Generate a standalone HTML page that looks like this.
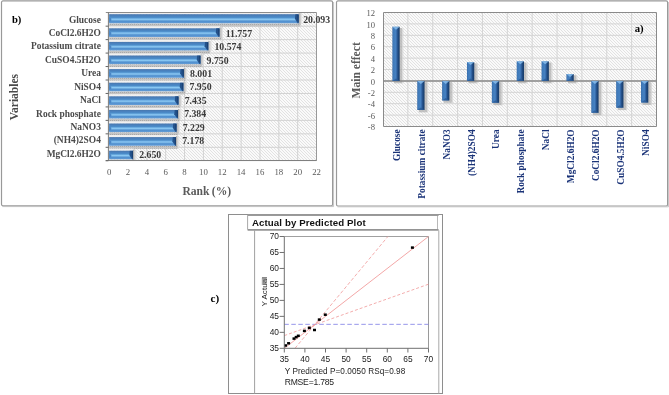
<!DOCTYPE html>
<html><head><meta charset="utf-8"><style>
html,body{margin:0;padding:0;background:#fff;width:669px;height:395px;overflow:hidden}
svg{display:block;will-change:transform;filter:blur(0.3px)}
text{font-family:"Liberation Serif", serif}
.sans{font-family:"Liberation Sans", sans-serif}
</style></head><body>
<svg width="669" height="395" viewBox="0 0 669 395">
<defs>
<pattern id="hatch" width="3" height="3" patternUnits="userSpaceOnUse">
<rect width="3" height="3" fill="#fafafa"/>
<rect x="0" y="0" width="1" height="1" fill="#e2e2e2"/>
<rect x="1" y="1" width="1" height="1" fill="#e2e2e2"/>
<rect x="2" y="2" width="1" height="1" fill="#e2e2e2"/>
</pattern>
<linearGradient id="hbar" x1="0" y1="0" x2="0" y2="1">
<stop offset="0" stop-color="#4676b0"/>
<stop offset="0.1" stop-color="#4a7cb4"/>
<stop offset="0.2" stop-color="#4a82c0"/>
<stop offset="0.35" stop-color="#4a8cc8"/>
<stop offset="0.5" stop-color="#7ab8ea"/>
<stop offset="0.56" stop-color="#8ccaf4"/>
<stop offset="0.66" stop-color="#70acdf"/>
<stop offset="0.76" stop-color="#5090d0"/>
<stop offset="0.88" stop-color="#5a96d2"/>
<stop offset="1" stop-color="#6a9fd6"/>
</linearGradient>
<linearGradient id="vbar" x1="0" y1="0" x2="1" y2="0">
<stop offset="0" stop-color="#3468a5"/>
<stop offset="0.12" stop-color="#3f7aba"/>
<stop offset="0.45" stop-color="#4681c1"/>
<stop offset="0.6" stop-color="#3568a8"/>
<stop offset="0.75" stop-color="#214d85"/>
<stop offset="1" stop-color="#183a66"/>
</linearGradient>
<pattern id="shad" width="2" height="2" patternUnits="userSpaceOnUse">
<rect width="2" height="2" fill="#c4c4c4"/>
<rect width="1" height="1" fill="#a9a9a9"/>
</pattern>
</defs>
<rect width="669" height="395" fill="#fff"/>

<rect x="1.5" y="0.9" width="331.1" height="204.9" rx="1.5" fill="#fff" stroke="#999" stroke-width="1.2"/>
<line x1="333.6" y1="2" x2="333.6" y2="206.6" stroke="#c4c4c4" stroke-width="1"/>
<line x1="2.5" y1="206.6" x2="333.6" y2="206.6" stroke="#c4c4c4" stroke-width="1"/>
<rect x="108.4" y="12.7" width="208.10" height="148.06" fill="url(#hatch)"/>
<line x1="127.98" y1="12.7" x2="127.98" y2="160.76" stroke="#d2d2d2" stroke-width="1"/>
<line x1="146.83" y1="12.7" x2="146.83" y2="160.76" stroke="#d2d2d2" stroke-width="1"/>
<line x1="165.69" y1="12.7" x2="165.69" y2="160.76" stroke="#d2d2d2" stroke-width="1"/>
<line x1="184.55" y1="12.7" x2="184.55" y2="160.76" stroke="#d2d2d2" stroke-width="1"/>
<line x1="203.41" y1="12.7" x2="203.41" y2="160.76" stroke="#d2d2d2" stroke-width="1"/>
<line x1="222.26" y1="12.7" x2="222.26" y2="160.76" stroke="#d2d2d2" stroke-width="1"/>
<line x1="241.12" y1="12.7" x2="241.12" y2="160.76" stroke="#d2d2d2" stroke-width="1"/>
<line x1="259.98" y1="12.7" x2="259.98" y2="160.76" stroke="#d2d2d2" stroke-width="1"/>
<line x1="278.83" y1="12.7" x2="278.83" y2="160.76" stroke="#d2d2d2" stroke-width="1"/>
<line x1="297.69" y1="12.7" x2="297.69" y2="160.76" stroke="#d2d2d2" stroke-width="1"/>
<line x1="108.4" y1="26.16" x2="316.5" y2="26.16" stroke="#d2d2d2" stroke-width="1"/>
<line x1="108.4" y1="39.62" x2="316.5" y2="39.62" stroke="#d2d2d2" stroke-width="1"/>
<line x1="108.4" y1="53.08" x2="316.5" y2="53.08" stroke="#d2d2d2" stroke-width="1"/>
<line x1="108.4" y1="66.54" x2="316.5" y2="66.54" stroke="#d2d2d2" stroke-width="1"/>
<line x1="108.4" y1="80.00" x2="316.5" y2="80.00" stroke="#d2d2d2" stroke-width="1"/>
<line x1="108.4" y1="93.46" x2="316.5" y2="93.46" stroke="#d2d2d2" stroke-width="1"/>
<line x1="108.4" y1="106.92" x2="316.5" y2="106.92" stroke="#d2d2d2" stroke-width="1"/>
<line x1="108.4" y1="120.38" x2="316.5" y2="120.38" stroke="#d2d2d2" stroke-width="1"/>
<line x1="108.4" y1="133.84" x2="316.5" y2="133.84" stroke="#d2d2d2" stroke-width="1"/>
<line x1="108.4" y1="147.30" x2="316.5" y2="147.30" stroke="#d2d2d2" stroke-width="1"/>
<line x1="105.8" y1="12.5" x2="316.5" y2="12.5" stroke="#8c8c8c" stroke-width="1"/>
<line x1="316.5" y1="12.5" x2="316.5" y2="160.76" stroke="#999" stroke-width="1"/>
<rect x="109.10" y="13.0" width="190.00" height="1.2" fill="#eeeeee"/>
<rect x="298.60" y="13.20" width="1.3" height="11.20" fill="#b0b0b0"/>
<rect x="299.90" y="13.20" width="1.2" height="11.20" fill="#cdcdcd"/>
<rect x="301.10" y="13.70" width="1.0" height="10.20" fill="#e4e4e4"/>
<rect x="109.10" y="14.20" width="189.50" height="9.20" fill="url(#hbar)"/>
<path d="M109.10,16.96 L111.30,18.62 L111.30,20.64 L109.10,22.02 Z" fill="#4a86c6"/>
<path d="M295.40,14.20 L298.60,14.20 L298.60,23.40 L297.80,23.40 L294.90,18.80 Z" fill="#24528b"/>
<path d="M297.30,14.70 L298.60,14.70 L298.60,22.90 L297.60,20.64 Z" fill="#1a3f70"/>
<rect x="109.10" y="23.60" width="191.30" height="2.8" fill="url(#shad)"/>
<rect x="109.10" y="26.30" width="110.86" height="2" fill="#f0f0f0"/>
<rect x="219.46" y="27.30" width="1.3" height="10.70" fill="#b0b0b0"/>
<rect x="220.76" y="27.30" width="1.2" height="10.70" fill="#cdcdcd"/>
<rect x="221.96" y="27.80" width="1.0" height="9.70" fill="#e4e4e4"/>
<rect x="109.10" y="28.30" width="110.36" height="8.70" fill="url(#hbar)"/>
<path d="M109.10,30.91 L111.30,32.48 L111.30,34.39 L109.10,35.70 Z" fill="#4a86c6"/>
<path d="M216.26,28.30 L219.46,28.30 L219.46,37.00 L218.66,37.00 L215.76,32.65 Z" fill="#24528b"/>
<path d="M218.16,28.80 L219.46,28.80 L219.46,36.50 L218.46,34.39 Z" fill="#1a3f70"/>
<rect x="109.10" y="37.20" width="112.16" height="2.8" fill="url(#shad)"/>
<rect x="109.10" y="39.90" width="99.63" height="2" fill="#f0f0f0"/>
<rect x="208.23" y="40.90" width="1.3" height="10.70" fill="#b0b0b0"/>
<rect x="209.53" y="40.90" width="1.2" height="10.70" fill="#cdcdcd"/>
<rect x="210.73" y="41.40" width="1.0" height="9.70" fill="#e4e4e4"/>
<rect x="109.10" y="41.90" width="99.13" height="8.70" fill="url(#hbar)"/>
<path d="M109.10,44.51 L111.30,46.08 L111.30,47.99 L109.10,49.29 Z" fill="#4a86c6"/>
<path d="M205.03,41.90 L208.23,41.90 L208.23,50.60 L207.43,50.60 L204.53,46.25 Z" fill="#24528b"/>
<path d="M206.93,42.40 L208.23,42.40 L208.23,50.10 L207.23,47.99 Z" fill="#1a3f70"/>
<rect x="109.10" y="50.80" width="100.93" height="2.8" fill="url(#shad)"/>
<rect x="109.10" y="53.50" width="91.81" height="2" fill="#f0f0f0"/>
<rect x="200.41" y="54.50" width="1.3" height="10.70" fill="#b0b0b0"/>
<rect x="201.71" y="54.50" width="1.2" height="10.70" fill="#cdcdcd"/>
<rect x="202.91" y="55.00" width="1.0" height="9.70" fill="#e4e4e4"/>
<rect x="109.10" y="55.50" width="91.31" height="8.70" fill="url(#hbar)"/>
<path d="M109.10,58.11 L111.30,59.68 L111.30,61.59 L109.10,62.89 Z" fill="#4a86c6"/>
<path d="M197.21,55.50 L200.41,55.50 L200.41,64.20 L199.61,64.20 L196.71,59.85 Z" fill="#24528b"/>
<path d="M199.11,56.00 L200.41,56.00 L200.41,63.70 L199.41,61.59 Z" fill="#1a3f70"/>
<rect x="109.10" y="64.40" width="93.11" height="2.8" fill="url(#shad)"/>
<rect x="109.10" y="67.10" width="75.20" height="2" fill="#f0f0f0"/>
<rect x="183.80" y="68.10" width="1.3" height="10.70" fill="#b0b0b0"/>
<rect x="185.10" y="68.10" width="1.2" height="10.70" fill="#cdcdcd"/>
<rect x="186.30" y="68.60" width="1.0" height="9.70" fill="#e4e4e4"/>
<rect x="109.10" y="69.10" width="74.70" height="8.70" fill="url(#hbar)"/>
<path d="M109.10,71.71 L111.30,73.28 L111.30,75.19 L109.10,76.49 Z" fill="#4a86c6"/>
<path d="M180.60,69.10 L183.80,69.10 L183.80,77.80 L183.00,77.80 L180.10,73.45 Z" fill="#24528b"/>
<path d="M182.50,69.60 L183.80,69.60 L183.80,77.30 L182.80,75.19 Z" fill="#1a3f70"/>
<rect x="109.10" y="78.00" width="76.50" height="2.8" fill="url(#shad)"/>
<rect x="109.10" y="80.70" width="74.72" height="2" fill="#f0f0f0"/>
<rect x="183.32" y="81.70" width="1.3" height="10.70" fill="#b0b0b0"/>
<rect x="184.62" y="81.70" width="1.2" height="10.70" fill="#cdcdcd"/>
<rect x="185.82" y="82.20" width="1.0" height="9.70" fill="#e4e4e4"/>
<rect x="109.10" y="82.70" width="74.22" height="8.70" fill="url(#hbar)"/>
<path d="M109.10,85.31 L111.30,86.88 L111.30,88.79 L109.10,90.09 Z" fill="#4a86c6"/>
<path d="M180.12,82.70 L183.32,82.70 L183.32,91.40 L182.52,91.40 L179.62,87.05 Z" fill="#24528b"/>
<path d="M182.02,83.20 L183.32,83.20 L183.32,90.90 L182.32,88.79 Z" fill="#1a3f70"/>
<rect x="109.10" y="91.60" width="76.02" height="2.8" fill="url(#shad)"/>
<rect x="109.10" y="94.30" width="69.83" height="2" fill="#f0f0f0"/>
<rect x="178.43" y="95.30" width="1.3" height="10.70" fill="#b0b0b0"/>
<rect x="179.73" y="95.30" width="1.2" height="10.70" fill="#cdcdcd"/>
<rect x="180.93" y="95.80" width="1.0" height="9.70" fill="#e4e4e4"/>
<rect x="109.10" y="96.30" width="69.33" height="8.70" fill="url(#hbar)"/>
<path d="M109.10,98.91 L111.30,100.48 L111.30,102.39 L109.10,103.69 Z" fill="#4a86c6"/>
<path d="M175.23,96.30 L178.43,96.30 L178.43,105.00 L177.63,105.00 L174.73,100.65 Z" fill="#24528b"/>
<path d="M177.13,96.80 L178.43,96.80 L178.43,104.50 L177.43,102.39 Z" fill="#1a3f70"/>
<rect x="109.10" y="105.20" width="71.13" height="2.8" fill="url(#shad)"/>
<rect x="109.10" y="107.90" width="69.34" height="2" fill="#f0f0f0"/>
<rect x="177.94" y="108.90" width="1.3" height="10.70" fill="#b0b0b0"/>
<rect x="179.24" y="108.90" width="1.2" height="10.70" fill="#cdcdcd"/>
<rect x="180.44" y="109.40" width="1.0" height="9.70" fill="#e4e4e4"/>
<rect x="109.10" y="109.90" width="68.84" height="8.70" fill="url(#hbar)"/>
<path d="M109.10,112.51 L111.30,114.08 L111.30,115.99 L109.10,117.29 Z" fill="#4a86c6"/>
<path d="M174.74,109.90 L177.94,109.90 L177.94,118.60 L177.14,118.60 L174.24,114.25 Z" fill="#24528b"/>
<path d="M176.64,110.40 L177.94,110.40 L177.94,118.10 L176.94,115.99 Z" fill="#1a3f70"/>
<rect x="109.10" y="118.80" width="70.64" height="2.8" fill="url(#shad)"/>
<rect x="109.10" y="121.50" width="67.87" height="2" fill="#f0f0f0"/>
<rect x="176.47" y="122.50" width="1.3" height="10.70" fill="#b0b0b0"/>
<rect x="177.77" y="122.50" width="1.2" height="10.70" fill="#cdcdcd"/>
<rect x="178.97" y="123.00" width="1.0" height="9.70" fill="#e4e4e4"/>
<rect x="109.10" y="123.50" width="67.37" height="8.70" fill="url(#hbar)"/>
<path d="M109.10,126.11 L111.30,127.68 L111.30,129.59 L109.10,130.89 Z" fill="#4a86c6"/>
<path d="M173.27,123.50 L176.47,123.50 L176.47,132.20 L175.67,132.20 L172.77,127.85 Z" fill="#24528b"/>
<path d="M175.17,124.00 L176.47,124.00 L176.47,131.70 L175.47,129.59 Z" fill="#1a3f70"/>
<rect x="109.10" y="132.40" width="69.17" height="2.8" fill="url(#shad)"/>
<rect x="109.10" y="135.10" width="67.39" height="2" fill="#f0f0f0"/>
<rect x="175.99" y="136.10" width="1.3" height="10.70" fill="#b0b0b0"/>
<rect x="177.29" y="136.10" width="1.2" height="10.70" fill="#cdcdcd"/>
<rect x="178.49" y="136.60" width="1.0" height="9.70" fill="#e4e4e4"/>
<rect x="109.10" y="137.10" width="66.89" height="8.70" fill="url(#hbar)"/>
<path d="M109.10,139.71 L111.30,141.28 L111.30,143.19 L109.10,144.49 Z" fill="#4a86c6"/>
<path d="M172.79,137.10 L175.99,137.10 L175.99,145.80 L175.19,145.80 L172.29,141.45 Z" fill="#24528b"/>
<path d="M174.69,137.60 L175.99,137.60 L175.99,145.30 L174.99,143.19 Z" fill="#1a3f70"/>
<rect x="109.10" y="146.00" width="68.69" height="2.8" fill="url(#shad)"/>
<rect x="109.10" y="148.70" width="24.40" height="2" fill="#f0f0f0"/>
<rect x="133.00" y="149.70" width="1.3" height="10.70" fill="#b0b0b0"/>
<rect x="134.30" y="149.70" width="1.2" height="10.70" fill="#cdcdcd"/>
<rect x="135.50" y="150.20" width="1.0" height="9.70" fill="#e4e4e4"/>
<rect x="109.10" y="150.70" width="23.90" height="8.70" fill="url(#hbar)"/>
<path d="M109.10,153.31 L111.30,154.88 L111.30,156.79 L109.10,158.09 Z" fill="#4a86c6"/>
<path d="M129.80,150.70 L133.00,150.70 L133.00,159.40 L132.20,159.40 L129.30,155.05 Z" fill="#24528b"/>
<path d="M131.70,151.20 L133.00,151.20 L133.00,158.90 L132.00,156.79 Z" fill="#1a3f70"/>
<rect x="109.10" y="159.60" width="24.60" height="1.0" fill="#c8c8c8"/>
<text x="100.9" y="22.50" font-size="9.45" font-weight="bold" fill="#4a4a4a" text-anchor="end">Glucose</text>
<text x="303.20" y="23.30" font-size="9.8" font-weight="bold" fill="#3a3a3a">20.093</text>
<text x="100.9" y="35.93" font-size="9.45" font-weight="bold" fill="#4a4a4a" text-anchor="end">CoCl2.6H2O</text>
<text x="225.66" y="36.73" font-size="9.8" font-weight="bold" fill="#3a3a3a">11.757</text>
<text x="100.9" y="49.36" font-size="9.45" font-weight="bold" fill="#4a4a4a" text-anchor="end">Potassium citrate</text>
<text x="214.43" y="50.16" font-size="9.8" font-weight="bold" fill="#3a3a3a">10.574</text>
<text x="100.9" y="62.79" font-size="9.45" font-weight="bold" fill="#4a4a4a" text-anchor="end">CuSO4.5H2O</text>
<text x="206.61" y="63.59" font-size="9.8" font-weight="bold" fill="#3a3a3a">9.750</text>
<text x="100.9" y="76.22" font-size="9.45" font-weight="bold" fill="#4a4a4a" text-anchor="end">Urea</text>
<text x="190.00" y="77.02" font-size="9.8" font-weight="bold" fill="#3a3a3a">8.001</text>
<text x="100.9" y="89.65" font-size="9.45" font-weight="bold" fill="#4a4a4a" text-anchor="end">NiSO4</text>
<text x="189.52" y="90.45" font-size="9.8" font-weight="bold" fill="#3a3a3a">7.950</text>
<text x="100.9" y="103.08" font-size="9.45" font-weight="bold" fill="#4a4a4a" text-anchor="end">NaCl</text>
<text x="184.63" y="103.88" font-size="9.8" font-weight="bold" fill="#3a3a3a">7.435</text>
<text x="100.9" y="116.51" font-size="9.45" font-weight="bold" fill="#4a4a4a" text-anchor="end">Rock phosphate</text>
<text x="184.14" y="117.31" font-size="9.8" font-weight="bold" fill="#3a3a3a">7.384</text>
<text x="100.9" y="129.94" font-size="9.45" font-weight="bold" fill="#4a4a4a" text-anchor="end">NaNO3</text>
<text x="182.67" y="130.74" font-size="9.8" font-weight="bold" fill="#3a3a3a">7.229</text>
<text x="100.9" y="143.37" font-size="9.45" font-weight="bold" fill="#4a4a4a" text-anchor="end">(NH4)2SO4</text>
<text x="182.19" y="144.17" font-size="9.8" font-weight="bold" fill="#3a3a3a">7.178</text>
<text x="100.9" y="156.80" font-size="9.45" font-weight="bold" fill="#4a4a4a" text-anchor="end">MgCl2.6H2O</text>
<text x="139.20" y="157.60" font-size="9.8" font-weight="bold" fill="#3a3a3a">2.650</text>
<line x1="108.4" y1="12.2" x2="108.4" y2="160.76" stroke="#7a7a7a" stroke-width="1"/>
<line x1="105.8" y1="160.56" x2="316.5" y2="160.56" stroke="#7a7a7a" stroke-width="1"/>
<line x1="105.6" y1="26.16" x2="108.4" y2="26.16" stroke="#666" stroke-width="1"/>
<line x1="105.6" y1="39.62" x2="108.4" y2="39.62" stroke="#666" stroke-width="1"/>
<line x1="105.6" y1="53.08" x2="108.4" y2="53.08" stroke="#666" stroke-width="1"/>
<line x1="105.6" y1="66.54" x2="108.4" y2="66.54" stroke="#666" stroke-width="1"/>
<line x1="105.6" y1="80.00" x2="108.4" y2="80.00" stroke="#666" stroke-width="1"/>
<line x1="105.6" y1="93.46" x2="108.4" y2="93.46" stroke="#666" stroke-width="1"/>
<line x1="105.6" y1="106.92" x2="108.4" y2="106.92" stroke="#666" stroke-width="1"/>
<line x1="105.6" y1="120.38" x2="108.4" y2="120.38" stroke="#666" stroke-width="1"/>
<line x1="105.6" y1="133.84" x2="108.4" y2="133.84" stroke="#666" stroke-width="1"/>
<line x1="105.6" y1="147.30" x2="108.4" y2="147.30" stroke="#666" stroke-width="1"/>
<line x1="105.6" y1="160.76" x2="108.4" y2="160.76" stroke="#666" stroke-width="1"/>
<text x="109.12" y="174.9" font-size="8.8" fill="#595959" text-anchor="middle">0</text>
<text x="127.98" y="174.9" font-size="8.8" fill="#595959" text-anchor="middle">2</text>
<text x="146.83" y="174.9" font-size="8.8" fill="#595959" text-anchor="middle">4</text>
<text x="165.69" y="174.9" font-size="8.8" fill="#595959" text-anchor="middle">6</text>
<text x="184.55" y="174.9" font-size="8.8" fill="#595959" text-anchor="middle">8</text>
<text x="203.41" y="174.9" font-size="8.8" fill="#595959" text-anchor="middle">10</text>
<text x="222.26" y="174.9" font-size="8.8" fill="#595959" text-anchor="middle">12</text>
<text x="241.12" y="174.9" font-size="8.8" fill="#595959" text-anchor="middle">14</text>
<text x="259.98" y="174.9" font-size="8.8" fill="#595959" text-anchor="middle">16</text>
<text x="278.83" y="174.9" font-size="8.8" fill="#595959" text-anchor="middle">18</text>
<text x="297.69" y="174.9" font-size="8.8" fill="#595959" text-anchor="middle">20</text>
<text x="316.55" y="174.9" font-size="8.8" fill="#595959" text-anchor="middle">22</text>
<text x="0" y="0" font-size="11.5" font-weight="bold" fill="#4a4a4a" text-anchor="middle" transform="translate(18.2 97.1) rotate(-90)">Variables</text>
<text x="206.8" y="195.4" font-size="11.6" font-weight="bold" fill="#5a5a5a" text-anchor="middle" word-spacing="-0.6">Rank (%)</text>
<text x="11.9" y="23.2" font-size="10.6" font-weight="bold" fill="#000">b)</text>
<rect x="336.5" y="0.9" width="331.1" height="205.1" rx="1.5" fill="#fff" stroke="#999" stroke-width="1.2"/>
<line x1="668.6" y1="2" x2="668.6" y2="206.8" stroke="#c4c4c4" stroke-width="1"/>
<line x1="337.5" y1="206.8" x2="668.6" y2="206.8" stroke="#c4c4c4" stroke-width="1"/>
<rect x="383" y="12.5" width="273.5" height="114.0" fill="url(#hatch)"/>
<line x1="407.86" y1="12.5" x2="407.86" y2="126.5" stroke="#d4d4d4" stroke-width="1"/>
<line x1="432.73" y1="12.5" x2="432.73" y2="126.5" stroke="#d4d4d4" stroke-width="1"/>
<line x1="457.59" y1="12.5" x2="457.59" y2="126.5" stroke="#d4d4d4" stroke-width="1"/>
<line x1="482.45" y1="12.5" x2="482.45" y2="126.5" stroke="#d4d4d4" stroke-width="1"/>
<line x1="507.32" y1="12.5" x2="507.32" y2="126.5" stroke="#d4d4d4" stroke-width="1"/>
<line x1="532.18" y1="12.5" x2="532.18" y2="126.5" stroke="#d4d4d4" stroke-width="1"/>
<line x1="557.05" y1="12.5" x2="557.05" y2="126.5" stroke="#d4d4d4" stroke-width="1"/>
<line x1="581.91" y1="12.5" x2="581.91" y2="126.5" stroke="#d4d4d4" stroke-width="1"/>
<line x1="606.77" y1="12.5" x2="606.77" y2="126.5" stroke="#d4d4d4" stroke-width="1"/>
<line x1="631.64" y1="12.5" x2="631.64" y2="126.5" stroke="#d4d4d4" stroke-width="1"/>
<line x1="383" y1="23.90" x2="656.5" y2="23.90" stroke="#d4d4d4" stroke-width="1"/>
<line x1="383" y1="35.30" x2="656.5" y2="35.30" stroke="#d4d4d4" stroke-width="1"/>
<line x1="383" y1="46.70" x2="656.5" y2="46.70" stroke="#d4d4d4" stroke-width="1"/>
<line x1="383" y1="58.10" x2="656.5" y2="58.10" stroke="#d4d4d4" stroke-width="1"/>
<line x1="383" y1="69.50" x2="656.5" y2="69.50" stroke="#d4d4d4" stroke-width="1"/>
<line x1="383" y1="80.90" x2="656.5" y2="80.90" stroke="#d4d4d4" stroke-width="1"/>
<line x1="383" y1="92.30" x2="656.5" y2="92.30" stroke="#d4d4d4" stroke-width="1"/>
<line x1="383" y1="103.70" x2="656.5" y2="103.70" stroke="#d4d4d4" stroke-width="1"/>
<line x1="383" y1="115.10" x2="656.5" y2="115.10" stroke="#d4d4d4" stroke-width="1"/>
<path d="M383.5,126.5 V12.5 H656.5 V126.5 Z" fill="none" stroke="#8a8a8a" stroke-width="1"/>
<rect x="393.88" y="27.95" width="8.30" height="55.35" fill="#b0b0b0" opacity="0.75"/>
<rect x="402.18" y="28.55" width="1.2" height="54.95" fill="#d4d4d4" opacity="0.8"/>
<rect x="418.75" y="82.10" width="8.30" height="30.27" fill="#b0b0b0" opacity="0.75"/>
<rect x="427.05" y="82.70" width="1.2" height="29.87" fill="#d4d4d4" opacity="0.8"/>
<rect x="443.61" y="82.10" width="8.30" height="20.69" fill="#b0b0b0" opacity="0.75"/>
<rect x="451.91" y="82.70" width="1.2" height="20.29" fill="#d4d4d4" opacity="0.8"/>
<rect x="468.47" y="63.29" width="8.30" height="20.01" fill="#b0b0b0" opacity="0.75"/>
<rect x="476.77" y="63.89" width="1.2" height="19.61" fill="#d4d4d4" opacity="0.8"/>
<rect x="493.34" y="82.10" width="8.30" height="23.09" fill="#b0b0b0" opacity="0.75"/>
<rect x="501.64" y="82.70" width="1.2" height="22.69" fill="#d4d4d4" opacity="0.8"/>
<rect x="518.20" y="62.49" width="8.30" height="20.81" fill="#b0b0b0" opacity="0.75"/>
<rect x="526.50" y="63.09" width="1.2" height="20.41" fill="#d4d4d4" opacity="0.8"/>
<rect x="543.06" y="62.49" width="8.30" height="20.81" fill="#b0b0b0" opacity="0.75"/>
<rect x="551.36" y="63.09" width="1.2" height="20.41" fill="#d4d4d4" opacity="0.8"/>
<rect x="567.93" y="75.20" width="8.30" height="8.10" fill="#b0b0b0" opacity="0.75"/>
<rect x="576.23" y="75.80" width="1.2" height="7.70" fill="#d4d4d4" opacity="0.8"/>
<rect x="592.79" y="82.10" width="8.30" height="33.12" fill="#b0b0b0" opacity="0.75"/>
<rect x="601.09" y="82.70" width="1.2" height="32.72" fill="#d4d4d4" opacity="0.8"/>
<rect x="617.65" y="82.10" width="8.30" height="27.99" fill="#b0b0b0" opacity="0.75"/>
<rect x="625.95" y="82.70" width="1.2" height="27.59" fill="#d4d4d4" opacity="0.8"/>
<rect x="642.52" y="82.10" width="8.30" height="22.86" fill="#b0b0b0" opacity="0.75"/>
<rect x="650.82" y="82.70" width="1.2" height="22.46" fill="#d4d4d4" opacity="0.8"/>
<line x1="383" y1="80.90" x2="656.5" y2="80.90" stroke="#8a8a8a" stroke-width="1.5"/>
<rect x="392.38" y="26.75" width="7.30" height="54.15" fill="url(#vbar)"/>
<path d="M392.38,26.75 L399.68,26.75 L396.03,29.75 Z" fill="#8cc0ee" opacity="0.8"/>
<path d="M392.38,80.90 L399.68,80.90 L396.03,78.40 Z" fill="#2a5a95" opacity="0.8"/>
<text x="0" y="0" font-size="9.35" font-weight="bold" fill="#1a3378" text-anchor="end" transform="translate(399.93 129.4) rotate(-90)">Glucose</text>
<rect x="417.25" y="80.90" width="7.30" height="29.07" fill="url(#vbar)"/>
<path d="M417.25,80.90 L424.55,80.90 L420.90,83.90 Z" fill="#8cc0ee" opacity="0.8"/>
<path d="M417.25,109.97 L424.55,109.97 L420.90,107.47 Z" fill="#2a5a95" opacity="0.8"/>
<text x="0" y="0" font-size="9.35" font-weight="bold" fill="#1a3378" text-anchor="end" transform="translate(424.80 129.4) rotate(-90)">Potassium citrate</text>
<rect x="442.11" y="80.90" width="7.30" height="19.49" fill="url(#vbar)"/>
<path d="M442.11,80.90 L449.41,80.90 L445.76,83.90 Z" fill="#8cc0ee" opacity="0.8"/>
<path d="M442.11,100.39 L449.41,100.39 L445.76,97.89 Z" fill="#2a5a95" opacity="0.8"/>
<text x="0" y="0" font-size="9.35" font-weight="bold" fill="#1a3378" text-anchor="end" transform="translate(449.66 129.4) rotate(-90)">NaNO3</text>
<rect x="466.97" y="62.09" width="7.30" height="18.81" fill="url(#vbar)"/>
<path d="M466.97,62.09 L474.27,62.09 L470.62,65.09 Z" fill="#8cc0ee" opacity="0.8"/>
<path d="M466.97,80.90 L474.27,80.90 L470.62,78.40 Z" fill="#2a5a95" opacity="0.8"/>
<text x="0" y="0" font-size="9.35" font-weight="bold" fill="#1a3378" text-anchor="end" transform="translate(474.52 129.4) rotate(-90)">(NH4)2SO4</text>
<rect x="491.84" y="80.90" width="7.30" height="21.89" fill="url(#vbar)"/>
<path d="M491.84,80.90 L499.14,80.90 L495.49,83.90 Z" fill="#8cc0ee" opacity="0.8"/>
<path d="M491.84,102.79 L499.14,102.79 L495.49,100.29 Z" fill="#2a5a95" opacity="0.8"/>
<text x="0" y="0" font-size="9.35" font-weight="bold" fill="#1a3378" text-anchor="end" transform="translate(499.39 129.4) rotate(-90)">Urea</text>
<rect x="516.70" y="61.29" width="7.30" height="19.61" fill="url(#vbar)"/>
<path d="M516.70,61.29 L524.00,61.29 L520.35,64.29 Z" fill="#8cc0ee" opacity="0.8"/>
<path d="M516.70,80.90 L524.00,80.90 L520.35,78.40 Z" fill="#2a5a95" opacity="0.8"/>
<text x="0" y="0" font-size="9.35" font-weight="bold" fill="#1a3378" text-anchor="end" transform="translate(524.25 129.4) rotate(-90)">Rock phosphate</text>
<rect x="541.56" y="61.29" width="7.30" height="19.61" fill="url(#vbar)"/>
<path d="M541.56,61.29 L548.86,61.29 L545.21,64.29 Z" fill="#8cc0ee" opacity="0.8"/>
<path d="M541.56,80.90 L548.86,80.90 L545.21,78.40 Z" fill="#2a5a95" opacity="0.8"/>
<text x="0" y="0" font-size="9.35" font-weight="bold" fill="#1a3378" text-anchor="end" transform="translate(549.11 129.4) rotate(-90)">NaCl</text>
<rect x="566.43" y="74.00" width="7.30" height="6.90" fill="url(#vbar)"/>
<path d="M566.43,74.00 L573.73,74.00 L570.08,77.00 Z" fill="#8cc0ee" opacity="0.8"/>
<path d="M566.43,80.90 L573.73,80.90 L570.08,78.40 Z" fill="#2a5a95" opacity="0.8"/>
<text x="0" y="0" font-size="9.35" font-weight="bold" fill="#1a3378" text-anchor="end" transform="translate(573.98 129.4) rotate(-90)">MgCl2.6H2O</text>
<rect x="591.29" y="80.90" width="7.30" height="31.92" fill="url(#vbar)"/>
<path d="M591.29,80.90 L598.59,80.90 L594.94,83.90 Z" fill="#8cc0ee" opacity="0.8"/>
<path d="M591.29,112.82 L598.59,112.82 L594.94,110.32 Z" fill="#2a5a95" opacity="0.8"/>
<text x="0" y="0" font-size="9.35" font-weight="bold" fill="#1a3378" text-anchor="end" transform="translate(598.84 129.4) rotate(-90)">CoCl2.6H2O</text>
<rect x="616.15" y="80.90" width="7.30" height="26.79" fill="url(#vbar)"/>
<path d="M616.15,80.90 L623.45,80.90 L619.80,83.90 Z" fill="#8cc0ee" opacity="0.8"/>
<path d="M616.15,107.69 L623.45,107.69 L619.80,105.19 Z" fill="#2a5a95" opacity="0.8"/>
<text x="0" y="0" font-size="9.35" font-weight="bold" fill="#1a3378" text-anchor="end" transform="translate(623.70 129.4) rotate(-90)">CuSO4.5H2O</text>
<rect x="641.02" y="80.90" width="7.30" height="21.66" fill="url(#vbar)"/>
<path d="M641.02,80.90 L648.32,80.90 L644.67,83.90 Z" fill="#8cc0ee" opacity="0.8"/>
<path d="M641.02,102.56 L648.32,102.56 L644.67,100.06 Z" fill="#2a5a95" opacity="0.8"/>
<text x="0" y="0" font-size="9.35" font-weight="bold" fill="#1a3378" text-anchor="end" transform="translate(648.57 129.4) rotate(-90)">NiSO4</text>
<text x="375" y="16.10" font-size="8.6" fill="#595959" text-anchor="end">12</text>
<text x="375" y="27.50" font-size="8.6" fill="#595959" text-anchor="end">10</text>
<text x="375" y="38.90" font-size="8.6" fill="#595959" text-anchor="end">8</text>
<text x="375" y="50.30" font-size="8.6" fill="#595959" text-anchor="end">6</text>
<text x="375" y="61.70" font-size="8.6" fill="#595959" text-anchor="end">4</text>
<text x="375" y="73.10" font-size="8.6" fill="#595959" text-anchor="end">2</text>
<text x="375" y="84.50" font-size="8.6" fill="#595959" text-anchor="end">0</text>
<text x="375" y="95.90" font-size="8.6" fill="#595959" text-anchor="end">-2</text>
<text x="375" y="107.30" font-size="8.6" fill="#595959" text-anchor="end">-4</text>
<text x="375" y="118.70" font-size="8.6" fill="#595959" text-anchor="end">-6</text>
<text x="375" y="130.10" font-size="8.6" fill="#595959" text-anchor="end">-8</text>
<text x="0" y="0" font-size="11.6" font-weight="bold" fill="#5a5a5a" text-anchor="middle" transform="translate(360.3 70.4) rotate(-90)">Main effect</text>
<text x="634.7" y="31.7" font-size="10.7" font-weight="bold" fill="#000">a)</text>
<rect x="228.5" y="214.5" width="214" height="179" fill="#fff" stroke="#8e8e8e" stroke-width="1"/>
<line x1="247.6" y1="215.2" x2="247.6" y2="229.6" stroke="#a8a8a8" stroke-width="1"/>
<line x1="437.5" y1="215.2" x2="437.5" y2="229.6" stroke="#b8b8b8" stroke-width="1"/>
<line x1="247.6" y1="215.1" x2="438.6" y2="215.1" stroke="#9a9a9a" stroke-width="1.6"/>
<line x1="247.6" y1="229.8" x2="438.6" y2="229.8" stroke="#949494" stroke-width="1.8"/>
<line x1="254.6" y1="230.3" x2="254.6" y2="393.5" stroke="#a0a0a0" stroke-width="1"/>
<line x1="438.8" y1="230.3" x2="438.8" y2="393.5" stroke="#a8a8a8" stroke-width="1"/>
<text x="251.9" y="225.8" font-size="9.7" font-weight="bold" fill="#111" class="sans" letter-spacing="0.1">Actual by Predicted Plot</text>
<line x1="284.3" y1="236.5" x2="428.5" y2="236.5" stroke="#a0a0a0" stroke-width="1"/>
<line x1="428.5" y1="236.5" x2="428.5" y2="348.3" stroke="#9a9a9a" stroke-width="1"/>
<line x1="284.3" y1="324.34" x2="428.5" y2="324.34" stroke="#8a8ae8" stroke-width="0.9" stroke-dasharray="4.5 2.5"/>
<line x1="284.30" y1="348.30" x2="428.50" y2="236.50" stroke="#f09090" stroke-width="0.8"/>
<line x1="295" y1="348.3" x2="387.9" y2="236.5" stroke="#f09898" stroke-width="0.8" stroke-dasharray="3.5 2"/>
<line x1="284.3" y1="335.6" x2="428.5" y2="284.2" stroke="#f09898" stroke-width="0.8" stroke-dasharray="3 2"/>
<rect x="410.90" y="246.35" width="3.0" height="2.5" fill="#000"/>
<rect x="323.80" y="313.45" width="3.0" height="2.5" fill="#000"/>
<rect x="317.80" y="318.35" width="3.0" height="2.5" fill="#000"/>
<rect x="313.00" y="328.75" width="3.0" height="2.5" fill="#000"/>
<rect x="307.80" y="326.65" width="3.0" height="2.5" fill="#000"/>
<rect x="302.90" y="329.65" width="3.0" height="2.5" fill="#000"/>
<rect x="296.80" y="334.55" width="3.0" height="2.5" fill="#000"/>
<rect x="294.70" y="335.85" width="3.0" height="2.5" fill="#000"/>
<rect x="292.50" y="337.35" width="3.0" height="2.5" fill="#000"/>
<rect x="287.10" y="342.05" width="3.0" height="2.5" fill="#000"/>
<rect x="284.10" y="344.25" width="3.0" height="2.5" fill="#000"/>
<line x1="284.3" y1="236.5" x2="284.3" y2="348.3" stroke="#707070" stroke-width="1"/>
<line x1="284.3" y1="348.3" x2="428.5" y2="348.3" stroke="#707070" stroke-width="1"/>
<line x1="279.6" y1="348.30" x2="284.3" y2="348.30" stroke="#707070" stroke-width="1"/>
<line x1="284.30" y1="348.3" x2="284.30" y2="352.5" stroke="#707070" stroke-width="1"/>
<text x="279" y="351.20" font-size="8.4" fill="#222" text-anchor="end" class="sans">35</text>
<text x="284.30" y="361.6" font-size="8.4" fill="#222" text-anchor="middle" class="sans">35</text>
<line x1="279.6" y1="332.33" x2="284.3" y2="332.33" stroke="#707070" stroke-width="1"/>
<line x1="304.90" y1="348.3" x2="304.90" y2="352.5" stroke="#707070" stroke-width="1"/>
<text x="279" y="335.23" font-size="8.4" fill="#222" text-anchor="end" class="sans">40</text>
<text x="304.90" y="361.6" font-size="8.4" fill="#222" text-anchor="middle" class="sans">40</text>
<line x1="279.6" y1="316.36" x2="284.3" y2="316.36" stroke="#707070" stroke-width="1"/>
<line x1="325.50" y1="348.3" x2="325.50" y2="352.5" stroke="#707070" stroke-width="1"/>
<text x="279" y="319.26" font-size="8.4" fill="#222" text-anchor="end" class="sans">45</text>
<text x="325.50" y="361.6" font-size="8.4" fill="#222" text-anchor="middle" class="sans">45</text>
<line x1="279.6" y1="300.39" x2="284.3" y2="300.39" stroke="#707070" stroke-width="1"/>
<line x1="346.10" y1="348.3" x2="346.10" y2="352.5" stroke="#707070" stroke-width="1"/>
<text x="279" y="303.29" font-size="8.4" fill="#222" text-anchor="end" class="sans">50</text>
<text x="346.10" y="361.6" font-size="8.4" fill="#222" text-anchor="middle" class="sans">50</text>
<line x1="279.6" y1="284.41" x2="284.3" y2="284.41" stroke="#707070" stroke-width="1"/>
<line x1="366.70" y1="348.3" x2="366.70" y2="352.5" stroke="#707070" stroke-width="1"/>
<text x="279" y="287.31" font-size="8.4" fill="#222" text-anchor="end" class="sans">55</text>
<text x="366.70" y="361.6" font-size="8.4" fill="#222" text-anchor="middle" class="sans">55</text>
<line x1="279.6" y1="268.44" x2="284.3" y2="268.44" stroke="#707070" stroke-width="1"/>
<line x1="387.30" y1="348.3" x2="387.30" y2="352.5" stroke="#707070" stroke-width="1"/>
<text x="279" y="271.34" font-size="8.4" fill="#222" text-anchor="end" class="sans">60</text>
<text x="387.30" y="361.6" font-size="8.4" fill="#222" text-anchor="middle" class="sans">60</text>
<line x1="279.6" y1="252.47" x2="284.3" y2="252.47" stroke="#707070" stroke-width="1"/>
<line x1="407.90" y1="348.3" x2="407.90" y2="352.5" stroke="#707070" stroke-width="1"/>
<text x="279" y="255.37" font-size="8.4" fill="#222" text-anchor="end" class="sans">65</text>
<text x="407.90" y="361.6" font-size="8.4" fill="#222" text-anchor="middle" class="sans">65</text>
<line x1="279.6" y1="236.50" x2="284.3" y2="236.50" stroke="#707070" stroke-width="1"/>
<line x1="428.50" y1="348.3" x2="428.50" y2="352.5" stroke="#707070" stroke-width="1"/>
<text x="279" y="239.40" font-size="8.4" fill="#222" text-anchor="end" class="sans">70</text>
<text x="428.50" y="361.6" font-size="8.4" fill="#222" text-anchor="middle" class="sans">70</text>
<text x="0" y="0" font-size="8.1" fill="#222" text-anchor="middle" transform="translate(266.6 291.8) rotate(-90)" class="sans">Y Actual</text>
<rect x="261.8" y="277.8" width="4.4" height="7.2" fill="#666" opacity="0.55"/>
<text x="284.7" y="373.7" font-size="8.2" fill="#222" class="sans" letter-spacing="0.07">Y Predicted P=0.0050 RSq=0.98</text>
<text x="284.7" y="384.9" font-size="8.6" fill="#222" class="sans" letter-spacing="-0.22">RMSE=1.785</text>
<text x="210.6" y="302" font-size="11.2" font-weight="bold" fill="#000">c)</text>
</svg></body></html>
